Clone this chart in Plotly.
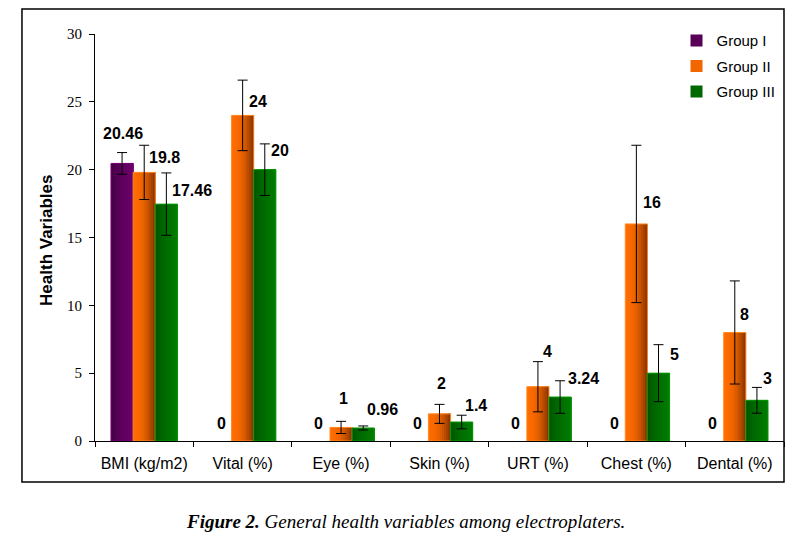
import plotly.graph_objects as go

categories = ["BMI (kg/m2)", "Vital (%)", "Eye (%)", "Skin (%)", "URT (%)", "Chest (%)", "Dental (%)"]
groups = ["Group I", "Group II", "Group III"]

group1 = [20.46, 0, 0, 0, 0, 0, 0]
group2 = [19.8, 24, 1, 2, 4, 16, 8]
group3 = [17.46, 20, 0.96, 1.4, 3.24, 5, 3]

err1 = [0.8, None, None, None, None, None, None]
err2 = [2.0, 2.6, 0.45, 0.7, 1.85, 5.8, 3.8]
err3 = [2.3, 1.9, 0.15, 0.5, 1.2, 2.1, 0.95]

values = [group1, group2, group3]
errors = [err1, err2, err3]

# bar styling: left colour, right colour, easing exponent, outline colour
styles = [
    ("#3a003a", "#6c006c", 0.5, "#7a007a"),
    ("#ff6c00", "#7e3000", 2.2, "#ff8a20"),
    ("#004a00", "#007c00", 0.5, "#009a00"),
]

# label nudges in px (dx from bar centre, dy above bar top)
label_nudge = [
    [(1, 30), (1, 18), (0, 18), (0, 18), (0, 18), (0, 18), (0, 18)],
    [(20, 15), (15, 14), (2, 29), (2, 30), (10, 35), (16, 21), (10, 18)],
    [(26, 14), (15, 19), (19, 18), (14, 17), (23, 19), (16, 19), (11, 22)],
]

BAR_W = 0.225
OFFSETS = [-0.3375, -0.1125, 0.1125]
N_STRIPS = 10
CAT_PX = 689 / len(categories)


def hex_rgb(h):
    h = h.lstrip("#")
    return [int(h[i:i + 2], 16) for i in (0, 2, 4)]


def lerp_color(a, b, t):
    ca, cb = hex_rgb(a), hex_rgb(b)
    return "rgb(%d,%d,%d)" % tuple(round(ca[k] + (cb[k] - ca[k]) * t) for k in range(3))


fig = go.Figure()

for g, name in enumerate(groups):
    left, right, gamma, edge = styles[g]
    sw = BAR_W / N_STRIPS
    # nested strips, each running to the right edge, so no seams show
    for i in range(N_STRIPS):
        t = ((i + 0.5) / N_STRIPS) ** gamma
        fig.add_trace(go.Bar(
            x=categories, y=values[g], name=name,
            width=BAR_W - i * sw, offset=OFFSETS[g] + i * sw,
            marker=dict(color=lerp_color(left, right, t), line=dict(width=0)),
            showlegend=(i == N_STRIPS // 3), legendgroup=name,
            hoverinfo="skip",
        ))
    fig.add_trace(go.Bar(
        x=categories, y=[v if v else None for v in values[g]], name=name,
        width=BAR_W, offset=OFFSETS[g],
        marker=dict(color="rgba(0,0,0,0)", line=dict(color=edge, width=1)),
        error_y=dict(type="data", array=errors[g], color="black", thickness=1, width=5),
        showlegend=False, legendgroup=name,
    ))

annotations = []
for g in range(3):
    centre_px = (OFFSETS[g] + BAR_W / 2) * CAT_PX
    for c, cat in enumerate(categories):
        v = values[g][c]
        dx, dy = label_nudge[g][c]
        annotations.append(dict(
            x=cat, y=v, xref="x", yref="y", text="<b>%s</b>" % ("%g" % v),
            showarrow=False, xshift=centre_px + dx, yshift=dy,
            xanchor="center", yanchor="middle",
            font=dict(family="Liberation Sans, Arial", size=16, color="black"),
        ))

annotations.append(dict(
    x=-0.0697, y=0.494, xref="paper", yref="paper", text="<b>Health Variables</b>",
    textangle=-90, showarrow=False, xanchor="center", yanchor="middle",
    font=dict(family="Liberation Sans, Arial", size=17, color="black"),
))
annotations.append(dict(
    x=0.45, y=-0.199, xref="paper", yref="paper",
    text="<b><i>Figure 2.</i></b><i> General health variables among electroplaters.</i>",
    showarrow=False, xanchor="center", yanchor="middle",
    font=dict(family="Liberation Serif, Times New Roman", size=19, color="black"),
))

# the page puts the plot 8px in from the top-left, so the figure is 8px smaller
fig.update_layout(
    width=792, height=527,
    margin=dict(l=87, r=16, t=26, b=94),
    plot_bgcolor="white", paper_bgcolor="white",
    barmode="overlay",
    annotations=annotations,
    shapes=[dict(type="rect", xref="paper", yref="paper",
                 x0=-0.106, x1=1.0, y0=-0.1007, y1=1.0614,
                 line=dict(color="black", width=1.5))],
    legend=dict(x=0.844, y=1.024, xanchor="left", yanchor="top",
                font=dict(family="Liberation Sans, Arial", size=15, color="black"),
                tracegroupgap=3, bgcolor="rgba(0,0,0,0)"),
    xaxis=dict(
        type="category", range=[-0.5, len(categories) - 0.5],
        showline=True, linecolor="black", linewidth=1,
        ticks="outside", tickson="boundaries", ticklen=5, tickcolor="black",
        tickfont=dict(family="Liberation Sans, Arial", size=16, color="black"),
        showgrid=False, zeroline=False, ticklabelstandoff=8,
    ),
    yaxis=dict(
        range=[0, 30], dtick=5, showline=True, linecolor="black", linewidth=1,
        ticks="outside", ticklen=5, tickcolor="black",
        tickfont=dict(family="Liberation Serif, Times New Roman", size=15, color="black"),
        showgrid=False, zeroline=False, ticklabelstandoff=4,
    ),
)

fig.write_html("out.html")
